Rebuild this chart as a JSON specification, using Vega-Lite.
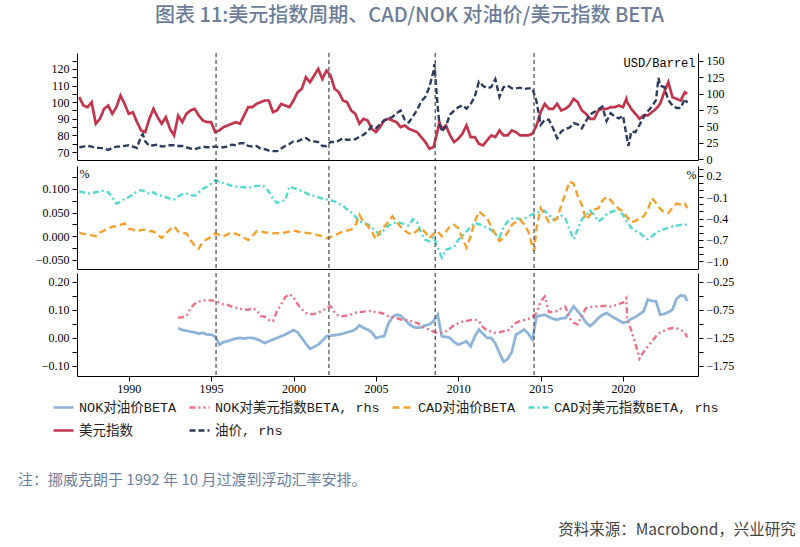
{
  "$schema": "https://vega.github.io/schema/vega-lite/v6.json",
  "background": "white",
  "padding": {"left": 18, "top": 6, "right": 5, "bottom": 5},
  "config": {
    "view": {"stroke": null},
    "axis": {"domainColor": "#000", "tickColor": "#000", "labelColor": "#000", "labelFont": "Liberation Serif, Times New Roman, serif", "labelFontSize": 12, "tickSize": 5, "grid": false, "domainWidth": 1, "tickWidth": 1, "titleFontWeight": "normal", "labelPadding": 3},
    "title": {"font": "Noto Sans CJK SC", "fontWeight": "normal"}
  },
  "title": {"text": "资料来源：Macrobond，兴业研究", "orient": "bottom", "anchor": "end", "fontSize": 15.5, "color": "#444444", "offset": 35, "dx": 62},
  "spacing": 2,
  "resolve": {"scale": {"color": "independent", "strokeDash": "independent"}, "legend": {"color": "independent", "strokeDash": "independent"}},
  "datasets": {
    "ev": [{"t": 1995.3}, {"t": 2002.15}, {"t": 2008.6}, {"t": 2014.6}],
    "d": [
      {"t":1987.0,"u":103,"o":18,"co":0.007,"cu":-0.02},
      {"t":1987.25,"u":98,"o":19,"co":0.005,"cu":-0.03},
      {"t":1987.5,"u":97,"o":20,"co":0.004,"cu":-0.05},
      {"t":1987.75,"u":100,"o":19,"co":0.002,"cu":-0.04},
      {"t":1988.0,"u":87,"o":17,"co":0.0,"cu":-0.03},
      {"t":1988.25,"u":90,"o":17,"co":0.008,"cu":-0.01},
      {"t":1988.5,"u":96,"o":16,"co":0.012,"cu":-0.01},
      {"t":1988.75,"u":98,"o":14,"co":0.016,"cu":-0.03},
      {"t":1989.0,"u":93,"o":17,"co":0.02,"cu":-0.1},
      {"t":1989.25,"u":97,"o":19,"co":0.021,"cu":-0.19},
      {"t":1989.5,"u":104,"o":19,"co":0.024,"cu":-0.16},
      {"t":1989.75,"u":99,"o":20,"co":0.027,"cu":-0.12},
      {"t":1990.0,"u":93,"o":21,"co":0.016,"cu":-0.1},
      {"t":1990.25,"u":94,"o":19,"co":0.014,"cu":-0.06},
      {"t":1990.5,"u":88,"o":17,"co":0.01,"cu":-0.02},
      {"t":1990.75,"u":83,"o":35,"co":0.013,"cu":0.0},
      {"t":1990.85,"o":38},
      {"t":1991.0,"u":82,"o":27,"co":0.014,"cu":-0.02},
      {"t":1991.25,"u":90,"o":20,"co":0.011,"cu":-0.05},
      {"t":1991.5,"u":96,"o":21,"co":0.01,"cu":-0.03},
      {"t":1991.75,"u":91,"o":22,"co":0.004,"cu":-0.07},
      {"t":1992.0,"u":87,"o":19,"co":-0.004,"cu":-0.08},
      {"t":1992.25,"u":91,"o":20,"co":0.006,"cu":-0.1},
      {"t":1992.5,"u":84,"o":21,"co":0.014,"cu":-0.12},
      {"t":1992.75,"u":80,"o":21,"co":0.021,"cu":-0.13},
      {"t":1993.0,"u":92,"o":20,"co":0.01,"cu":-0.09,"no":0.035,"nu":-0.89},
      {"t":1993.25,"u":88,"o":20,"co":0.007,"cu":-0.06,"no":0.028,"nu":-0.88},
      {"t":1993.5,"u":93,"o":18,"co":0.006,"cu":-0.05,"no":0.026,"nu":-0.86},
      {"t":1993.75,"u":95,"o":16,"co":-0.008,"cu":-0.07,"no":0.022,"nu":-0.72},
      {"t":1994.0,"u":96,"o":15,"co":-0.02,"cu":-0.08,"no":0.02,"nu":-0.64},
      {"t":1994.25,"u":92,"o":17,"co":-0.026,"cu":-0.03,"no":0.015,"nu":-0.6},
      {"t":1994.5,"u":89,"o":19,"co":-0.012,"cu":0.02,"no":0.018,"nu":-0.58},
      {"t":1994.75,"u":88,"o":18,"co":-0.006,"cu":0.05,"no":0.012,"nu":-0.57},
      {"t":1995.0,"u":88,"o":18,"co":-0.002,"cu":0.09,"no":0.012,"nu":-0.58},
      {"t":1995.25,"u":82,"o":19,"co":0.006,"cu":0.14,"no":0.005,"nu":-0.59},
      {"t":1995.5,"u":83,"o":18,"co":0.003,"cu":0.12,"no":-0.024,"nu":-0.62},
      {"t":1995.75,"u":85,"o":18,"co":0.0,"cu":0.1,"no":-0.015,"nu":-0.65},
      {"t":1996.0,"u":86,"o":19,"co":0.004,"cu":0.08,"no":-0.012,"nu":-0.66},
      {"t":1996.25,"u":87,"o":22,"co":0.008,"cu":0.06,"no":-0.006,"nu":-0.69},
      {"t":1996.5,"u":88,"o":21,"co":0.005,"cu":0.05,"no":-0.002,"nu":-0.71},
      {"t":1996.75,"u":87,"o":24,"co":0.002,"cu":0.045,"no":0.0,"nu":-0.73},
      {"t":1997.0,"u":92,"o":24,"co":-0.003,"cu":0.04,"no":-0.002,"nu":-0.74},
      {"t":1997.25,"u":97,"o":20,"co":-0.008,"cu":0.03,"no":0.0,"nu":-0.745},
      {"t":1997.5,"u":97,"o":19,"co":0.0,"cu":0.05,"no":0.0,"nu":-0.72},
      {"t":1997.75,"u":99,"o":20,"co":0.01,"cu":0.06,"no":-0.004,"nu":-0.75},
      {"t":1998.0,"u":100,"o":16,"co":0.01,"cu":0.06,"no":-0.01,"nu":-0.86},
      {"t":1998.25,"u":101,"o":15,"co":0.008,"cu":0.05,"no":-0.018,"nu":-0.87},
      {"t":1998.5,"u":101,"o":13,"co":0.008,"cu":-0.02,"no":-0.012,"nu":-0.93},
      {"t":1998.75,"u":94,"o":12,"co":0.006,"cu":-0.12,"no":-0.006,"nu":-0.95},
      {"t":1999.0,"u":95,"o":12,"co":0.007,"cu":-0.18,"no":0.0,"nu":-0.77},
      {"t":1999.25,"u":99,"o":16,"co":0.005,"cu":-0.16,"no":0.006,"nu":-0.65},
      {"t":1999.5,"u":98,"o":20,"co":0.008,"cu":-0.14,"no":0.012,"nu":-0.52},
      {"t":1999.75,"u":97,"o":23,"co":0.01,"cu":0.05,"no":0.02,"nu":-0.47},
      {"t":2000.0,"u":101,"o":27,"co":0.012,"cu":0.03,"no":0.028,"nu":-0.52},
      {"t":2000.25,"u":106,"o":27,"co":0.01,"cu":0.01,"no":0.02,"nu":-0.65},
      {"t":2000.5,"u":108,"o":30,"co":0.008,"cu":-0.01,"no":0.0,"nu":-0.74},
      {"t":2000.75,"u":115,"o":32,"co":0.007,"cu":-0.04,"no":-0.02,"nu":-0.8},
      {"t":2001.0,"u":112,"o":28,"co":0.006,"cu":-0.07,"no":-0.039,"nu":-0.83},
      {"t":2001.25,"u":116,"o":27,"co":0.004,"cu":-0.08,"no":-0.032,"nu":-0.82},
      {"t":2001.5,"u":120,"o":26,"co":0.002,"cu":-0.1,"no":-0.024,"nu":-0.8},
      {"t":2001.75,"u":114,"o":20,"co":0.0,"cu":-0.12,"no":-0.01,"nu":-0.76},
      {"t":2002.0,"u":119,"o":20,"co":-0.004,"cu":-0.13,"no":0.006,"nu":-0.72},
      {"t":2002.25,"u":116,"o":26,"co":-0.002,"cu":-0.14,"no":0.008,"nu":-0.68},
      {"t":2002.5,"u":108,"o":26,"co":0.002,"cu":-0.16,"no":0.01,"nu":-0.8},
      {"t":2002.75,"u":106,"o":28,"co":0.006,"cu":-0.19,"no":0.012,"nu":-0.86},
      {"t":2003.0,"u":101,"o":32,"co":0.01,"cu":-0.22,"no":0.015,"nu":-0.86},
      {"t":2003.25,"u":100,"o":29,"co":0.012,"cu":-0.27,"no":0.02,"nu":-0.85},
      {"t":2003.5,"u":95,"o":30,"co":0.014,"cu":-0.31,"no":0.024,"nu":-0.83},
      {"t":2003.75,"u":93,"o":30,"co":0.022,"cu":-0.37,"no":0.03,"nu":-0.8},
      {"t":2004.0,"u":87,"o":34,"co":0.045,"cu":-0.44,"no":0.045,"nu":-0.79},
      {"t":2004.25,"u":90,"o":37,"co":0.03,"cu":-0.46,"no":0.036,"nu":-0.78},
      {"t":2004.5,"u":89,"o":42,"co":0.022,"cu":-0.48,"no":0.03,"nu":-0.77},
      {"t":2004.75,"u":84,"o":50,"co":0.01,"cu":-0.52,"no":0.02,"nu":-0.77},
      {"t":2005.0,"u":82,"o":47,"co":-0.006,"cu":-0.58,"no":0.0,"nu":-0.79},
      {"t":2005.25,"u":85,"o":53,"co":0.01,"cu":-0.62,"no":0.004,"nu":-0.8},
      {"t":2005.5,"u":89,"o":59,"co":0.02,"cu":-0.56,"no":0.006,"nu":-0.82},
      {"t":2005.75,"u":90,"o":62,"co":0.03,"cu":-0.5,"no":0.05,"nu":-0.86},
      {"t":2006.0,"u":89,"o":64,"co":0.042,"cu":-0.47,"no":0.075,"nu":-0.88},
      {"t":2006.25,"u":88,"o":70,"co":0.03,"cu":-0.45,"no":0.083,"nu":-0.89},
      {"t":2006.5,"u":85,"o":74,"co":0.02,"cu":-0.46,"no":0.08,"nu":-0.92},
      {"t":2006.75,"u":86,"o":60,"co":0.012,"cu":-0.48,"no":0.065,"nu":-0.93},
      {"t":2007.0,"u":84,"o":56,"co":0.006,"cu":-0.5,"no":0.05,"nu":-0.93},
      {"t":2007.25,"u":83,"o":65,"co":0.004,"cu":-0.41,"no":0.04,"nu":-0.97},
      {"t":2007.5,"u":82,"o":75,"co":0.012,"cu":-0.45,"no":0.036,"nu":-0.98},
      {"t":2007.75,"u":79,"o":88,"co":0.017,"cu":-0.6,"no":0.038,"nu":-1.03},
      {"t":2008.0,"u":76,"o":95,"co":0.008,"cu":-0.7,"no":0.045,"nu":-1.08},
      {"t":2008.25,"u":72,"o":110,"co":-0.004,"cu":-0.72,"no":0.048,"nu":-1.1},
      {"t":2008.5,"u":73,"o":135,"co":0.005,"cu":-0.66,"no":0.06,"nu":-1.14},
      {"t":2008.55,"o":145},
      {"t":2008.75,"u":83,"o":80,"co":0.01,"cu":-0.8,"no":0.083,"nu":-1.16},
      {"t":2008.85,"u":88,"o":55},
      {"t":2009.0,"u":84,"o":42,"co":0.0,"cu":-0.95,"no":0.006,"nu":-1.15},
      {"t":2009.25,"u":86,"o":50,"co":0.01,"cu":-0.84,"no":0.004,"nu":-1.13},
      {"t":2009.5,"u":80,"o":68,"co":0.021,"cu":-0.82,"no":0.0,"nu":-1.08},
      {"t":2009.75,"u":76,"o":74,"co":0.024,"cu":-0.8,"no":-0.015,"nu":-1.02},
      {"t":2010.0,"u":78,"o":79,"co":0.017,"cu":-0.7,"no":-0.024,"nu":-0.99},
      {"t":2010.25,"u":81,"o":82,"co":-0.005,"cu":-0.64,"no":-0.018,"nu":-0.96},
      {"t":2010.5,"u":86,"o":77,"co":-0.024,"cu":-0.58,"no":-0.012,"nu":-0.95},
      {"t":2010.75,"u":79,"o":84,"co":0.0,"cu":-0.52,"no":-0.03,"nu":-0.93},
      {"t":2011.0,"u":79,"o":95,"co":0.03,"cu":-0.46,"no":0.005,"nu":-0.92},
      {"t":2011.25,"u":75,"o":118,"co":0.052,"cu":-0.48,"no":0.03,"nu":-0.95},
      {"t":2011.5,"u":74,"o":112,"co":0.045,"cu":-0.5,"no":0.015,"nu":-1.06},
      {"t":2011.75,"u":77,"o":108,"co":0.038,"cu":-0.53,"no":0.0,"nu":-1.12},
      {"t":2012.0,"u":80,"o":110,"co":0.02,"cu":-0.56,"no":0.0,"nu":-1.14},
      {"t":2012.25,"u":79,"o":122,"co":0.005,"cu":-0.62,"no":-0.02,"nu":-1.16},
      {"t":2012.5,"u":83,"o":95,"co":-0.01,"cu":-0.67,"no":-0.054,"nu":-1.15},
      {"t":2012.75,"u":80,"o":110,"co":-0.004,"cu":-0.52,"no":-0.085,"nu":-1.13},
      {"t":2013.0,"u":80,"o":112,"co":0.008,"cu":-0.44,"no":-0.075,"nu":-1.12},
      {"t":2013.25,"u":83,"o":108,"co":0.024,"cu":-0.4,"no":-0.05,"nu":-1.05},
      {"t":2013.5,"u":82,"o":108,"co":0.03,"cu":-0.39,"no":0.012,"nu":-0.98},
      {"t":2013.75,"u":80,"o":109,"co":0.035,"cu":-0.41,"no":0.02,"nu":-0.95},
      {"t":2014.0,"u":80,"o":107,"co":0.025,"cu":-0.4,"no":0.03,"nu":-0.93},
      {"t":2014.25,"u":80,"o":108,"co":0.01,"cu":-0.37,"no":0.015,"nu":-0.91},
      {"t":2014.5,"u":81,"o":108,"co":-0.021,"cu":-0.34,"no":-0.006,"nu":-0.87},
      {"t":2014.6,"co":-0.031},
      {"t":2014.75,"u":86,"o":88,"co":0.017,"cu":-0.32,"no":0.077,"nu":-0.8},
      {"t":2015.0,"u":94,"o":52,"co":0.059,"cu":-0.3,"no":0.08,"nu":-0.6},
      {"t":2015.25,"u":99,"o":60,"co":0.045,"cu":-0.29,"no":0.083,"nu":-0.51},
      {"t":2015.5,"u":96,"o":60,"co":0.03,"cu":-0.35,"no":0.075,"nu":-0.79},
      {"t":2015.75,"u":96,"o":47,"co":0.032,"cu":-0.41,"no":0.068,"nu":-0.78},
      {"t":2016.0,"u":99,"o":32,"co":0.038,"cu":-0.4,"no":0.065,"nu":-0.77},
      {"t":2016.25,"u":95,"o":42,"co":0.065,"cu":-0.36,"no":0.07,"nu":-0.72},
      {"t":2016.5,"u":96,"o":46,"co":0.09,"cu":-0.4,"no":0.071,"nu":-0.69},
      {"t":2016.75,"u":98,"o":48,"co":0.115,"cu":-0.55,"no":0.09,"nu":-0.9},
      {"t":2017.0,"u":102,"o":55,"co":0.111,"cu":-0.69,"no":0.113,"nu":-0.98},
      {"t":2017.25,"u":100,"o":53,"co":0.085,"cu":-0.55,"no":0.095,"nu":-1.01},
      {"t":2017.5,"u":95,"o":47,"co":0.066,"cu":-0.41,"no":0.077,"nu":-0.85},
      {"t":2017.75,"u":93,"o":58,"co":0.035,"cu":-0.35,"no":0.055,"nu":-0.72},
      {"t":2018.0,"u":90,"o":68,"co":0.045,"cu":-0.29,"no":0.042,"nu":-0.7},
      {"t":2018.25,"u":90,"o":72,"co":0.056,"cu":-0.35,"no":0.055,"nu":-0.69},
      {"t":2018.5,"u":95,"o":76,"co":0.059,"cu":-0.44,"no":0.071,"nu":-0.685},
      {"t":2018.75,"u":96,"o":80,"co":0.075,"cu":-0.4,"no":0.082,"nu":-0.68},
      {"t":2019.0,"u":96,"o":58,"co":0.083,"cu":-0.34,"no":0.089,"nu":-0.68},
      {"t":2019.25,"u":97,"o":70,"co":0.076,"cu":-0.31,"no":0.08,"nu":-0.69},
      {"t":2019.5,"u":97,"o":65,"co":0.065,"cu":-0.29,"no":0.071,"nu":-0.67},
      {"t":2019.75,"u":98,"o":62,"co":0.058,"cu":-0.27,"no":0.062,"nu":-0.64},
      {"t":2020.0,"u":97,"o":66,"co":0.052,"cu":-0.35,"no":0.054,"nu":-0.62},
      {"t":2020.2,"u":102,"nu":-0.54},
      {"t":2020.25,"u":100,"o":30,"co":0.04,"cu":-0.45,"no":0.058,"nu":-0.9},
      {"t":2020.33,"o":20},
      {"t":2020.5,"u":96,"o":42,"co":0.03,"cu":-0.53,"no":0.068,"nu":-1.12},
      {"t":2020.75,"u":93,"o":41,"co":0.032,"cu":-0.57,"no":0.075,"nu":-1.35},
      {"t":2021.0,"u":90,"o":52,"co":0.038,"cu":-0.6,"no":0.085,"nu":-1.62},
      {"t":2021.25,"u":92,"o":64,"co":0.042,"cu":-0.65,"no":0.095,"nu":-1.5},
      {"t":2021.5,"u":92,"o":73,"co":0.055,"cu":-0.69,"no":0.137,"nu":-1.4},
      {"t":2021.75,"u":94,"o":80,"co":0.08,"cu":-0.65,"no":0.132,"nu":-1.31},
      {"t":2022.0,"u":96,"o":90,"co":0.07,"cu":-0.6,"no":0.131,"nu":-1.22},
      {"t":2022.15,"o":124},
      {"t":2022.25,"u":99,"o":112,"co":0.058,"cu":-0.57,"no":0.083,"nu":-1.15},
      {"t":2022.5,"u":106,"o":110,"co":0.05,"cu":-0.55,"no":0.086,"nu":-1.12},
      {"t":2022.75,"u":112,"o":90,"co":0.049,"cu":-0.53,"no":0.092,"nu":-1.09},
      {"t":2023.0,"u":103,"o":82,"co":0.06,"cu":-0.51,"no":0.101,"nu":-1.07},
      {"t":2023.25,"u":102,"o":78,"co":0.069,"cu":-0.5,"no":0.14,"nu":-1.08},
      {"t":2023.5,"u":101,"o":78,"co":0.067,"cu":-0.49,"no":0.152,"nu":-1.11},
      {"t":2023.75,"u":106,"o":92,"co":0.069,"cu":-0.49,"no":0.15,"nu":-1.15},
      {"t":2023.9,"u":105,"o":86,"co":0.059,"cu":-0.48,"no":0.131,"nu":-1.24}
    ]
  },
  "vconcat": [
    {
      "spacing": -3,
      "resolve": {"scale": {"color": "independent", "strokeDash": "independent"}, "legend": {"color": "independent", "strokeDash": "independent"}},
      "vconcat": [
        {
          "title": {"text": "图表 11:美元指数周期、CAD/NOK 对油价/美元指数 BETA", "anchor": "middle", "fontSize": 20, "fontWeight": 500, "color": "#6b7d99", "offset": 26, "dx": 22},
          "width": 621, "height": 107,
          "layer": [
            {
              "data": {"name": "d"},
              "transform": [{"fold": ["u"], "as": ["s", "v"]}, {"filter": "isValid(datum.v)"}],
              "mark": {"type": "line", "strokeWidth": 2.7},
              "encoding": {
                "x": {"field": "t", "type": "quantitative", "scale": {"domain": [1986.86, 2024.55], "nice": false, "zero": false}, "axis": {"labels": false, "ticks": false, "title": null}},
                "y": {"field": "v", "type": "quantitative", "scale": {"domain": [65.2, 129.6], "nice": false, "zero": false}, "axis": {"orient": "left", "title": null, "values": [65,70,75,80,85,90,95,100,105,110,115,120,125], "labelExpr": "datum.value % 10 === 0 ? datum.label : ''", "labelFontSize": {"condition": {"test": "datum.value % 10 !== 0", "value": 0}, "value": 12}}},
                "color": {"field": "s", "type": "nominal", "scale": {"domain": ["no","nu","co","cu","u","o"], "range": ["#8fb4da","#ec7088","#f2a12c","#52d9cf","#c2354d","#2c3c5c"]}, "legend": null},
                "strokeDash": {"field": "s", "type": "nominal", "scale": {"domain": ["no","nu","co","cu","u","o"], "range": [[1,0],[6,3,2,3,2,3],[7,4],[6,3,2,3],[1,0],[6,3]]}, "legend": null}
              }
            },
            {
              "data": {"name": "d"},
              "transform": [{"fold": ["o"], "as": ["s", "v"]}, {"filter": "isValid(datum.v)"}],
              "mark": {"type": "line", "strokeWidth": 2.4},
              "encoding": {
                "x": {"field": "t", "type": "quantitative", "scale": {"domain": [1986.86, 2024.55], "nice": false, "zero": false}, "axis": {"labels": false, "ticks": false, "title": null}},
                "y": {"field": "v", "type": "quantitative", "scale": {"domain": [-1.5, 162], "nice": false, "zero": false}, "axis": {"orient": "right", "values": [0,25,50,75,100,125,150], "title": "USD/Barrel", "titleAngle": 0, "titleAlign": "right", "titleBaseline": "middle", "titleX": -3, "titleY": 9, "titleFont": "Liberation Mono", "titleFontSize": 12, "titleColor": "#000"}},
                "color": {"field": "s", "type": "nominal", "scale": {"domain": ["no","nu","co","cu","u","o"], "range": ["#8fb4da","#ec7088","#f2a12c","#52d9cf","#c2354d","#2c3c5c"]}, "legend": null},
                "strokeDash": {"field": "s", "type": "nominal", "scale": {"domain": ["no","nu","co","cu","u","o"], "range": [[1,0],[6,3,2,3,2,3],[7,4],[6,3,2,3],[1,0],[6,3]]}, "legend": null}
              }
            },
            {
              "data": {"name": "ev"},
              "mark": {"type": "rule", "color": "#555555", "strokeDash": [4, 3], "strokeWidth": 1.3},
              "encoding": {"x": {"field": "t", "type": "quantitative"}}
            }
          ],
          "resolve": {"scale": {"y": "independent"}}
        },
        {
          "width": 621, "height": 103,
          "layer": [
            {
              "data": {"name": "d"},
              "transform": [{"fold": ["cu"], "as": ["s", "v"]}, {"filter": "isValid(datum.v)"}],
              "mark": {"type": "line", "strokeWidth": 2.4},
              "encoding": {
                "x": {"field": "t", "type": "quantitative", "scale": {"domain": [1986.86, 2024.55], "nice": false, "zero": false}, "axis": {"labels": false, "ticks": false, "title": null}},
                "y": {"field": "v", "type": "quantitative", "scale": {"domain": [-1.11, 0.34], "nice": false, "zero": false}, "axis": {"orient": "right", "values": [-1.0,-0.9,-0.8,-0.7,-0.6,-0.5,-0.4,-0.3,-0.2,-0.1,0.0,0.1,0.2,0.3], "labelExpr": "(round(datum.value*10)+30) % 3 === 2 ? format(datum.value, '.1f') : ''", "labelFontSize": {"condition": {"test": "(round(datum.value*10)+30) % 3 !== 2", "value": 0}, "value": 12}, "title": "%", "titleAngle": 0, "titleAlign": "right", "titleBaseline": "middle", "titleX": -2, "titleY": 8, "titleFont": "Liberation Serif", "titleFontSize": 12, "titleColor": "#000"}},
                "color": {"field": "s", "type": "nominal", "scale": {"domain": ["no","nu","co","cu","u","o"], "range": ["#8fb4da","#ec7088","#f2a12c","#52d9cf","#c2354d","#2c3c5c"]}, "legend": null},
                "strokeDash": {"field": "s", "type": "nominal", "scale": {"domain": ["no","nu","co","cu","u","o"], "range": [[1,0],[6,3,2,3,2,3],[7,4],[6,3,2,3],[1,0],[6,3]]}, "legend": null}
              }
            },
            {
              "data": {"name": "d"},
              "transform": [{"fold": ["co"], "as": ["s", "v"]}, {"filter": "isValid(datum.v)"}],
              "mark": {"type": "line", "strokeWidth": 2.4},
              "encoding": {
                "x": {"field": "t", "type": "quantitative", "scale": {"domain": [1986.86, 2024.55], "nice": false, "zero": false}, "axis": {"labels": false, "ticks": false, "title": null}},
                "y": {"field": "v", "type": "quantitative", "scale": {"domain": [-0.069, 0.148], "nice": false, "zero": false}, "axis": {"orient": "left", "values": [-0.05,-0.025,0,0.025,0.05,0.075,0.1,0.125], "labelExpr": "round(datum.value*1000) % 50 === 0 ? format(datum.value, '.3f') : ''", "labelFontSize": {"condition": {"test": "round(datum.value*1000) % 50 !== 0", "value": 0}, "value": 12}, "title": "%", "titleAngle": 0, "titleAlign": "left", "titleBaseline": "middle", "titleX": 2, "titleY": 7, "titleFont": "Liberation Serif", "titleFontSize": 12, "titleColor": "#000"}},
                "color": {"field": "s", "type": "nominal", "scale": {"domain": ["no","nu","co","cu","u","o"], "range": ["#8fb4da","#ec7088","#f2a12c","#52d9cf","#c2354d","#2c3c5c"]}, "legend": null},
                "strokeDash": {"field": "s", "type": "nominal", "scale": {"domain": ["no","nu","co","cu","u","o"], "range": [[1,0],[6,3,2,3,2,3],[7,4],[6,3,2,3],[1,0],[6,3]]}, "legend": null}
              }
            },
            {
              "data": {"name": "ev"},
              "mark": {"type": "rule", "color": "#555555", "strokeDash": [4, 3], "strokeWidth": 1.3},
              "encoding": {"x": {"field": "t", "type": "quantitative"}}
            }
          ],
          "resolve": {"scale": {"y": "independent"}}
        }
      ]
    },
    {
      "title": {"text": "注：挪威克朗于 1992 年 10 月过渡到浮动汇率安排。", "orient": "bottom", "anchor": "start", "frame": "group", "dx": -59, "offset": 36, "fontSize": 15, "color": "#6a7fa0"},
      "width": 621, "height": 103,
      "layer": [
        {
          "data": {"name": "d"},
          "transform": [{"fold": ["no"], "as": ["s", "v"]}, {"filter": "isValid(datum.v)"}],
          "mark": {"type": "line", "strokeWidth": 2.8},
          "encoding": {
            "x": {"field": "t", "type": "quantitative", "scale": {"domain": [1986.86, 2024.55], "nice": false, "zero": false}, "axis": {"values": [1990,1995,2000,2005,2010,2015,2020], "format": "d", "title": null, "labelPadding": 2}},
            "y": {"field": "v", "type": "quantitative", "scale": {"domain": [-0.136, 0.232], "nice": false, "zero": false}, "axis": {"orient": "left", "values": [-0.1,-0.05,0,0.05,0.1,0.15,0.2], "labelExpr": "round(datum.value*100) % 10 === 0 ? format(datum.value, '.2f') : ''", "labelFontSize": {"condition": {"test": "round(datum.value*100) % 10 !== 0", "value": 0}, "value": 12}, "title": null}},
            "color": {"field": "s", "type": "nominal", "scale": {"domain": ["no","nu","co","cu","u","o"], "range": ["#8fb4da","#ec7088","#f2a12c","#52d9cf","#c2354d","#2c3c5c"]}, "legend": {"title": null, "orient": "none", "legendX": -25, "legendY": 123, "direction": "horizontal", "columns": 4, "gridAlign": "none", "symbolType": "stroke", "symbolSize": 400, "symbolStrokeWidth": 2.5, "labelFont": "Liberation Mono, Noto Sans CJK SC", "labelFontSize": 13.5, "labelLimit": 400, "labelColor": "#222222", "columnPadding": 7, "rowPadding": 5, "labelExpr": "datum.value=='no'?'NOK对油价BETA':datum.value=='nu'?'NOK对美元指数BETA, rhs':datum.value=='co'?'CAD对油价BETA':datum.value=='cu'?'CAD对美元指数BETA, rhs':datum.value=='u'?'美元指数':'油价, rhs'"}},
            "strokeDash": {"field": "s", "type": "nominal", "scale": {"domain": ["no","nu","co","cu","u","o"], "range": [[1,0],[6,3,2,3,2,3],[7,4],[6,3,2,3],[1,0],[6,3]]}, "legend": {"title": null, "orient": "none", "legendX": -25, "legendY": 123, "direction": "horizontal", "columns": 4, "gridAlign": "none", "symbolType": "stroke", "symbolSize": 400, "symbolStrokeWidth": 2.5, "labelFont": "Liberation Mono, Noto Sans CJK SC", "labelFontSize": 13.5, "labelLimit": 400, "labelColor": "#222222", "columnPadding": 7, "rowPadding": 5, "labelExpr": "datum.value=='no'?'NOK对油价BETA':datum.value=='nu'?'NOK对美元指数BETA, rhs':datum.value=='co'?'CAD对油价BETA':datum.value=='cu'?'CAD对美元指数BETA, rhs':datum.value=='u'?'美元指数':'油价, rhs'"}}
          }
        },
        {
          "data": {"name": "d"},
          "transform": [{"fold": ["nu"], "as": ["s", "v"]}, {"filter": "isValid(datum.v)"}],
          "mark": {"type": "line", "strokeWidth": 2.4},
          "encoding": {
            "x": {"field": "t", "type": "quantitative", "scale": {"domain": [1986.86, 2024.55], "nice": false, "zero": false}, "axis": {"values": [1990,1995,2000,2005,2010,2015,2020], "format": "d", "title": null, "labelPadding": 2}},
            "y": {"field": "v", "type": "quantitative", "scale": {"domain": [-1.93, -0.09], "nice": false, "zero": false}, "axis": {"orient": "right", "values": [-1.75,-1.5,-1.25,-1.0,-0.75,-0.5,-0.25], "labelExpr": "(round(datum.value*100)+200) % 50 === 25 ? format(datum.value, '.2f') : ''", "labelFontSize": {"condition": {"test": "(round(datum.value*100)+200) % 50 !== 25", "value": 0}, "value": 12}, "title": null}},
            "color": {"field": "s", "type": "nominal", "scale": {"domain": ["no","nu","co","cu","u","o"], "range": ["#8fb4da","#ec7088","#f2a12c","#52d9cf","#c2354d","#2c3c5c"]}},
            "strokeDash": {"field": "s", "type": "nominal", "scale": {"domain": ["no","nu","co","cu","u","o"], "range": [[1,0],[6,3,2,3,2,3],[7,4],[6,3,2,3],[1,0],[6,3]]}}
          }
        },
        {
          "data": {"name": "ev"},
          "mark": {"type": "rule", "color": "#555555", "strokeDash": [4, 3], "strokeWidth": 1.3},
          "encoding": {"x": {"field": "t", "type": "quantitative"}}
        }
      ],
      "resolve": {"scale": {"y": "independent"}}
    }
  ]
}
